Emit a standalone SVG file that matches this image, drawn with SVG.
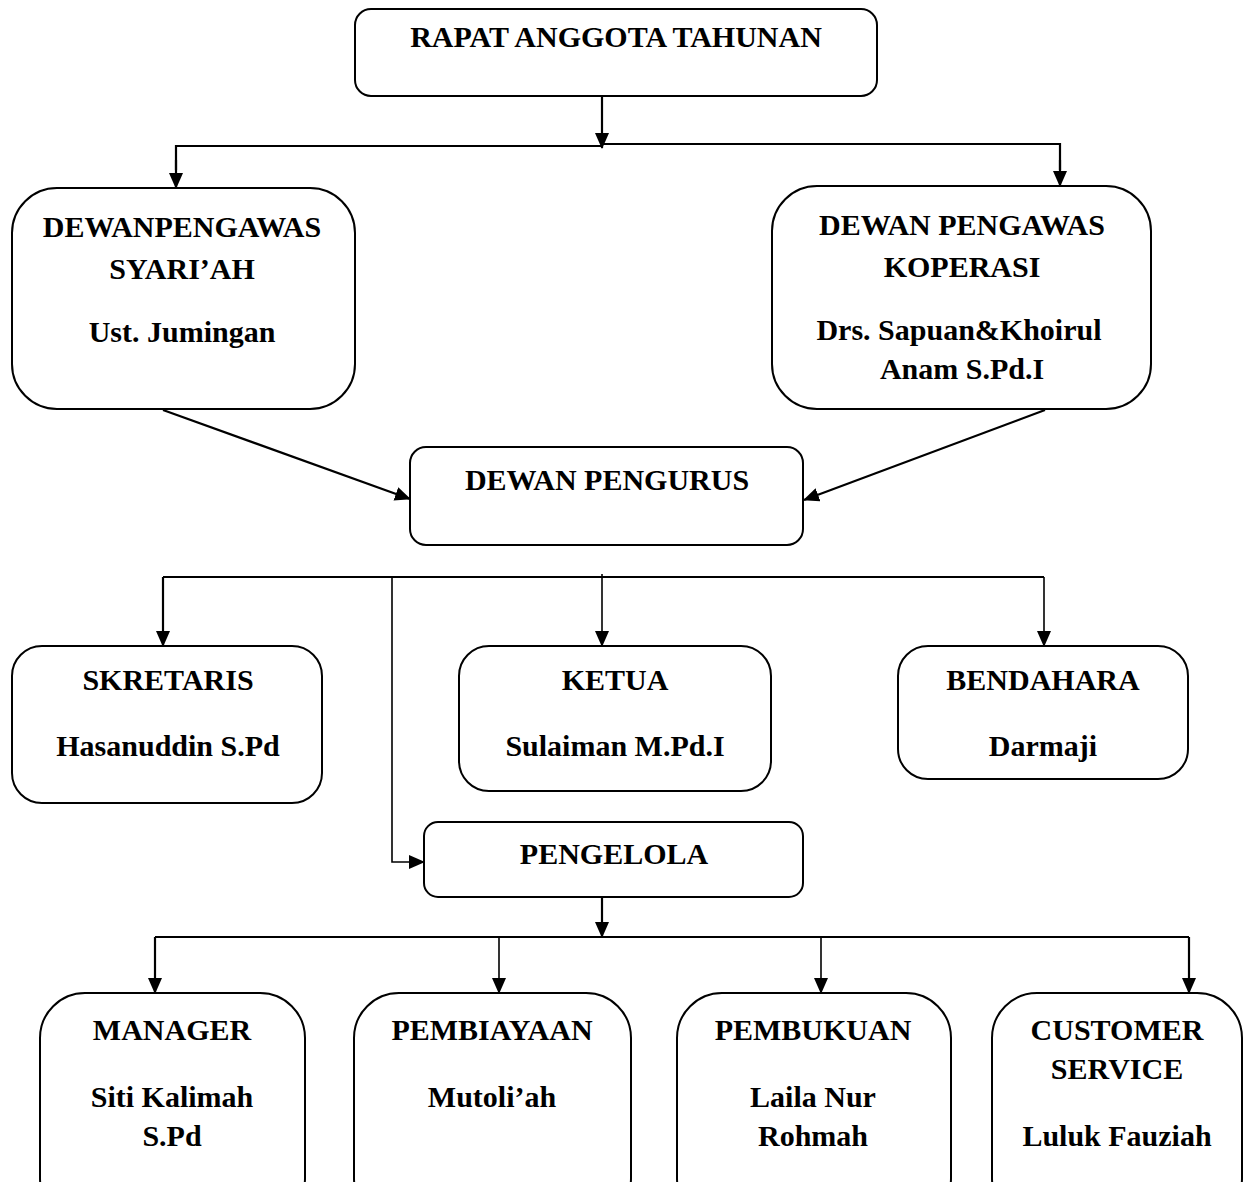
<svg xmlns="http://www.w3.org/2000/svg" width="1244" height="1182" viewBox="0 0 1244 1182">
<style>
.box{fill:#fff;stroke:#000;stroke-width:2}
.t{font-family:"Liberation Serif","Times New Roman",serif;font-weight:bold;font-size:30px;fill:#000;text-anchor:middle}
.c{fill:none;stroke:#000;stroke-width:2.2}
.c1{fill:none;stroke:#000;stroke-width:1.6}
</style>
<defs>
<marker id="ah" markerUnits="userSpaceOnUse" markerWidth="16" markerHeight="14" refX="15" refY="7" orient="auto">
<path d="M0,0 L16,7 L0,14 Z" fill="#000"/>
</marker>
</defs>
<rect width="1244" height="1182" fill="#fff"/>
<g id="connectors">
<path class="c" d="M602,96 V148" marker-end="url(#ah)"/>
<path class="c" d="M176,170 V146 H602 M602,144 H1060 V170"/>
<path class="c" d="M176,160 V188" marker-end="url(#ah)"/>
<path class="c" d="M1060,160 V186" marker-end="url(#ah)"/>
<path class="c" d="M163,410 L410,499" marker-end="url(#ah)"/>
<path class="c" d="M1045,410 L804,500" marker-end="url(#ah)"/>
<path class="c" d="M163,577 H1044"/>
<path class="c" d="M163,577 V646" marker-end="url(#ah)"/>
<path class="c1" d="M602,574 V646" marker-end="url(#ah)"/>
<path class="c1" d="M1044,577 V646" marker-end="url(#ah)"/>
<path class="c1" d="M392,577 V862 H424" marker-end="url(#ah)"/>
<path class="c" d="M602,894 V937" marker-end="url(#ah)"/>
<path class="c" d="M155,937 H1189"/>
<path class="c" d="M155,937 V993" marker-end="url(#ah)"/>
<path class="c1" d="M499,937 V993" marker-end="url(#ah)"/>
<path class="c1" d="M821,937 V993" marker-end="url(#ah)"/>
<path class="c" d="M1189,937 V993" marker-end="url(#ah)"/>
</g>
<g id="rapat">
<rect class="box" x="355" y="9" width="522" height="87" rx="16"/>
<text class="t" x="616" y="47">RAPAT ANGGOTA TAHUNAN</text>
</g>
<g id="dps">
<rect class="box" x="12" y="188" width="343" height="221" rx="45"/>
<text class="t" x="182" y="237">DEWANPENGAWAS</text>
<text class="t" x="182" y="279">SYARI’AH</text>
<text class="t" x="182" y="342">Ust. Jumingan</text>
</g>
<g id="dpk">
<rect class="box" x="772" y="186" width="379" height="223" rx="45"/>
<text class="t" x="962" y="235">DEWAN PENGAWAS</text>
<text class="t" x="962" y="277">KOPERASI</text>
<text class="t" x="959" y="340">Drs. Sapuan&amp;Khoirul</text>
<text class="t" x="962" y="379">Anam S.Pd.I</text>
</g>
<g id="pengurus">
<rect class="box" x="410" y="447" width="393" height="98" rx="16"/>
<text class="t" x="607" y="490">DEWAN PENGURUS</text>
</g>
<g id="skretaris">
<rect class="box" x="12" y="646" width="310" height="157" rx="30"/>
<text class="t" x="168" y="690">SKRETARIS</text>
<text class="t" x="168" y="756">Hasanuddin S.Pd</text>
</g>
<g id="ketua">
<rect class="box" x="459" y="646" width="312" height="145" rx="30"/>
<text class="t" x="615" y="690">KETUA</text>
<text class="t" x="615" y="756">Sulaiman M.Pd.I</text>
</g>
<g id="bendahara">
<rect class="box" x="898" y="646" width="290" height="133" rx="30"/>
<text class="t" x="1043" y="690">BENDAHARA</text>
<text class="t" x="1043" y="756">Darmaji</text>
</g>
<g id="pengelola">
<rect class="box" x="424" y="822" width="379" height="75" rx="14"/>
<text class="t" x="614" y="864">PENGELOLA</text>
</g>
<g id="manager">
<rect class="box" x="40" y="993" width="265" height="230" rx="45"/>
<text class="t" x="172" y="1040">MANAGER</text>
<text class="t" x="172" y="1107">Siti Kalimah</text>
<text class="t" x="172" y="1146">S.Pd</text>
</g>
<g id="pembiayaan">
<rect class="box" x="354" y="993" width="277" height="230" rx="45"/>
<text class="t" x="492" y="1040">PEMBIAYAAN</text>
<text class="t" x="492" y="1107">Mutoli’ah</text>
</g>
<g id="pembukuan">
<rect class="box" x="677" y="993" width="274" height="230" rx="45"/>
<text class="t" x="813" y="1040">PEMBUKUAN</text>
<text class="t" x="813" y="1107">Laila Nur</text>
<text class="t" x="813" y="1146">Rohmah</text>
</g>
<g id="customer">
<rect class="box" x="992" y="993" width="250" height="230" rx="45"/>
<text class="t" x="1117" y="1040">CUSTOMER</text>
<text class="t" x="1117" y="1079">SERVICE</text>
<text class="t" x="1117" y="1146">Luluk Fauziah</text>
</g>
</svg>
